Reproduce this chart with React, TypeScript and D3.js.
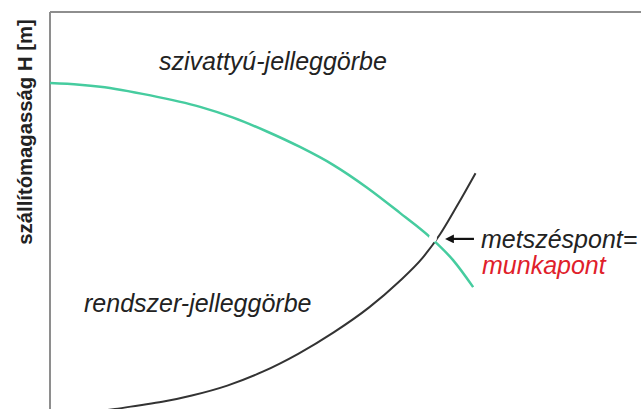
import React from 'react';
import * as d3 from 'd3';

// Q (flow) and H (head) values in relative units (0..100)
const pumpQ = [0, 5, 8.5, 17, 25.4, 31, 36.7, 42.3, 47.9, 53.6, 59.2, 64.3, 68.2, 71.6];
const pumpH = [82.1, 81.7, 81.2, 79.0, 76.1, 73.4, 69.9, 66.0, 61.5, 55.8, 49.4, 43.3, 37.5, 30.7];

const systemQ = [8, 11, 15, 19, 24, 30, 36, 42, 48, 54, 59, 63, 66, 69, 72];
const systemH = [-0.6, 0, 0.9, 1.8, 3.4, 5.9, 9.4, 13.9, 19.3, 25.6, 32.0, 38.0, 44.0, 51.5, 59.4];

const operatingPoint = { q: 64.8, h: 43.1 };

const yAxisLabel = 'szállítómagasság H [m]';
const pumpLabel = 'szivattyú-jelleggörbe';
const systemLabel = 'rendszer-jelleggörbe';
const pointLabel1 = 'metszéspont=';
const pointLabel2 = 'munkapont';

const width = 641;
const height = 409;
const margin = { left: 50, top: 12, right: 0, bottom: 0 };

export default function App() {
  const x = d3.scaleLinear().domain([0, 100]).range([margin.left, width - margin.right]);
  const y = d3.scaleLinear().domain([0, 100]).range([height - margin.bottom, margin.top]);

  const line = d3
    .line<[number, number]>()
    .x((d) => x(d[0]))
    .y((d) => y(d[1]))
    .curve(d3.curveMonotoneX);

  const pump = pumpQ.map((q, i) => [q, pumpH[i]] as [number, number]);
  const system = systemQ.map((q, i) => [q, systemH[i]] as [number, number]);

  const px = x(operatingPoint.q);
  const py = y(operatingPoint.h);
  const font = '"Liberation Sans", Arial, sans-serif';

  return (
    <svg
      width={width}
      height={height}
      style={{ position: 'absolute', left: 0, top: 0, background: '#fff' }}
    >
      <defs>
        <marker id="arrow" viewBox="0 0 10 10" refX="1" refY="5" markerWidth="4" markerHeight="4" orient="auto-start-reverse">
          <path d="M0,0 L10,5 L0,10 z" fill="#111" />
        </marker>
      </defs>

      {/* frame */}
      <line x1={x(0)} x2={x(0)} y1={y(100)} y2={height} stroke="#8e8e8e" strokeWidth={2} />
      <line x1={x(0)} x2={width} y1={y(100)} y2={y(100)} stroke="#8e8e8e" strokeWidth={2} />

      <path d={line(system) ?? ''} fill="none" stroke="#333" strokeWidth={2} />
      <path d={line(pump) ?? ''} fill="none" stroke="#46cc9f" strokeWidth={2.5} />
      <circle cx={px} cy={py} r={4} fill="#fff" />

      {/* arrow to the operating point */}
      <line
        x1={px + 41}
        x2={px + 20}
        y1={py + 1}
        y2={py + 1}
        stroke="#111"
        strokeWidth={2.2}
        markerEnd="url(#arrow)"
      />

      <text
        transform={`translate(32, 132) rotate(-90)`}
        textAnchor="middle"
        fontFamily={font}
        fontWeight="bold"
        fontSize={20.3}
        fill="#222"
      >
        {yAxisLabel}
      </text>

      <text x={159} y={70} fontFamily={font} fontStyle="italic" fontSize={25} fill="#222">
        {pumpLabel}
      </text>
      <text x={84} y={312} fontFamily={font} fontStyle="italic" fontSize={25} fill="#222">
        {systemLabel}
      </text>
      <text x={481} y={248} fontFamily={font} fontStyle="italic" fontSize={25} fill="#222">
        {pointLabel1}
      </text>
      <text x={482} y={274} fontFamily={font} fontStyle="italic" fontSize={25} fill="#e0202a">
        {pointLabel2}
      </text>
    </svg>
  );
}
